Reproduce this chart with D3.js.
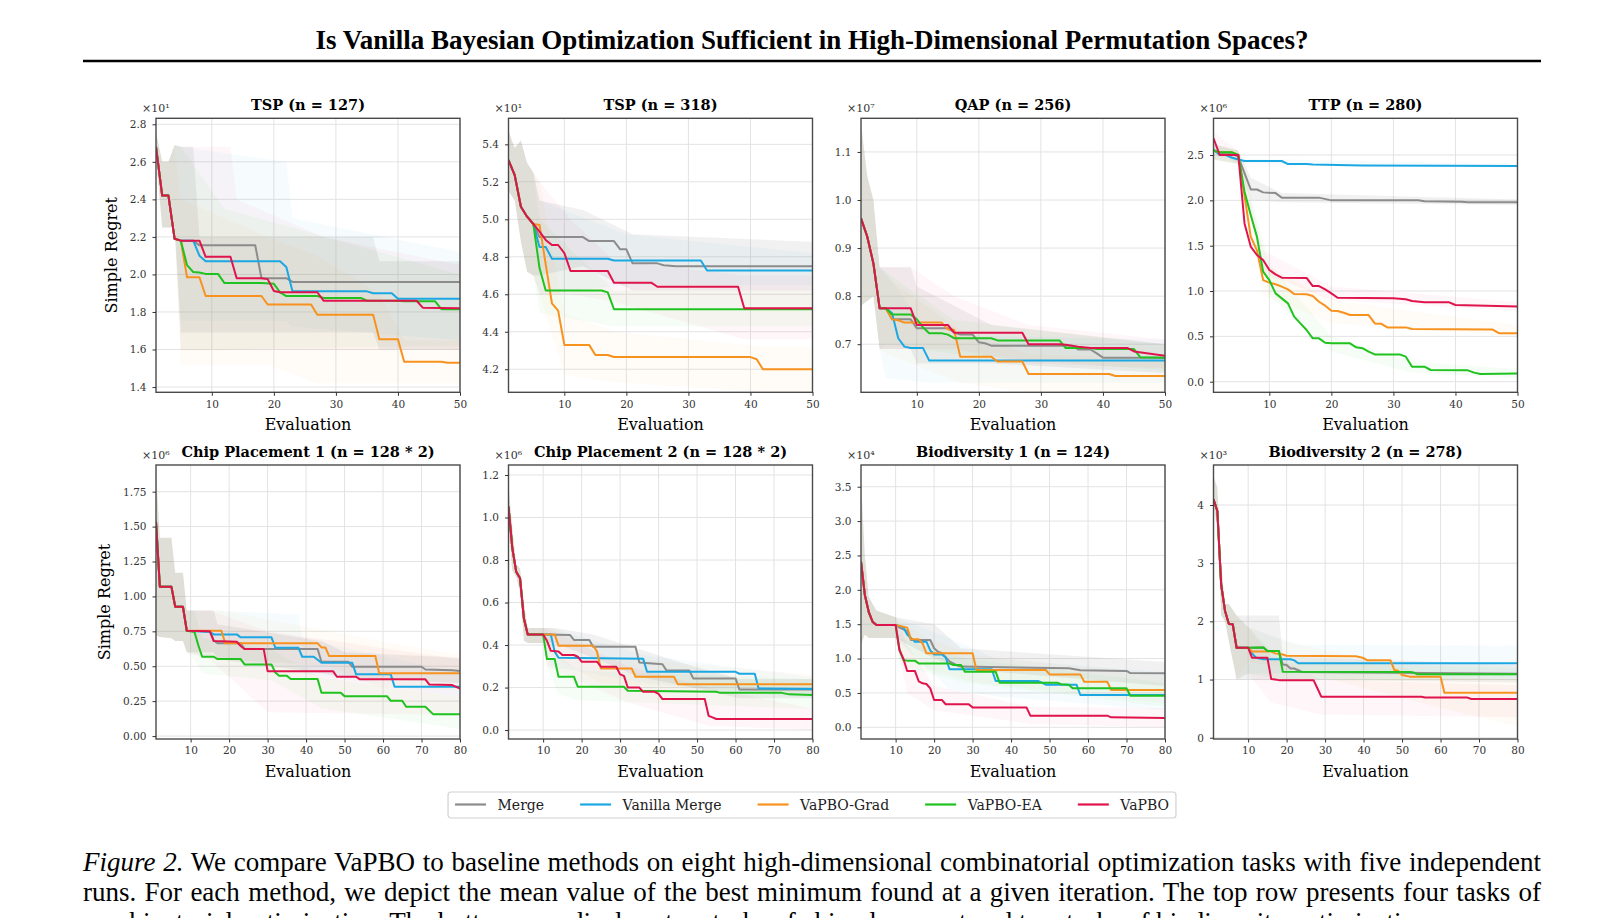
<!DOCTYPE html>
<html>
<head>
<meta charset="utf-8">
<script src="https://cdn.jsdelivr.net/npm/d3@7"></script>
<style>
  body { margin: 0; background: #fff; width: 1624px; height: 918px; overflow: hidden; position: relative; }
  .caption { position: absolute; left: 83px; width: 1458px; top: 847px;
             font-family: "Liberation Serif", serif; font-size: 27px; line-height: 30px; color: #000; }
  .caption div { text-align: justify; text-align-last: justify; white-space: nowrap; }
  .caption div.last { text-align-last: left; }
</style>
</head>
<body>
<svg id="fig" width="1624" height="918"></svg>
<div class="caption" id="caption"></div>
<script>
//legend / series info
var methods = ["Merge", "Vanilla Merge", "VaPBO-Grad", "VaPBO-EA", "VaPBO"];
var colors = ["#8c8c8c", "#1ba8e2", "#f7921e", "#1fc21f", "#e0144c"];

var panelTitles = ["TSP (n = 127)", "TSP (n = 318)", "QAP (n = 256)", "TTP (n = 280)",
    "Chip Placement 1 (n = 128 * 2)", "Chip Placement 2 (n = 128 * 2)",
    "Biodiversity 1 (n = 124)", "Biodiversity 2 (n = 278)"];
var panelExponents = ["¹", "¹", "⁷", "⁶", "⁶", "⁶", "⁴", "³"];
var xMaxes = [50, 50, 50, 50, 80, 80, 80, 80];
var xTicksTop = [10, 20, 30, 40, 50];
var xTicksBottom = [10, 20, 30, 40, 50, 60, 70, 80];
var yDomains = [[1.372, 2.832], [4.077, 5.539], [0.600, 1.170], [-0.117, 2.905],
    [-0.021, 1.941], [-0.042, 1.247], [-0.170, 3.816], [-0.022, 4.688]];
var yTicks = [[1.4, 1.6, 1.8, 2.0, 2.2, 2.4, 2.6, 2.8], [4.2, 4.4, 4.6, 4.8, 5.0, 5.2, 5.4],
    [0.7, 0.8, 0.9, 1.0, 1.1], [0, 0.5, 1, 1.5, 2, 2.5], [0, 0.25, 0.5, 0.75, 1, 1.25, 1.5, 1.75],
    [0, 0.2, 0.4, 0.6, 0.8, 1.0, 1.2], [0, 0.5, 1, 1.5, 2, 2.5, 3, 3.5], [0, 1, 2, 3, 4]];
var yFormats = [".1f", ".1f", ".1f", ".1f", ".2f", ".1f", ".1f", "d"];

var titleText = "Is Vanilla Bayesian Optimization Sufficient in High-Dimensional Permutation Spaces?";
var captionLines = [
    "<i>Figure 2.</i> We compare VaPBO to baseline methods on eight high-dimensional combinatorial optimization tasks with five independent",
    "runs. For each method, we depict the mean value of the best minimum found at a given iteration. The top row presents four tasks of",
    "combinatorial optimization. The bottom row displays two tasks of chip placement and two tasks of biodiversity optimization."];

//mean curves, [evaluation, value] vertices, order = methods
var tsp127Start = [[1, 2.68], [2, 2.42], [3, 2.42], [4, 2.19], [5, 2.18]];
var tsp127 = [
    tsp127Start.concat([[7, 2.18], [8, 2.155], [17, 2.155], [18, 1.98], [22, 1.98], [23, 1.96], [50, 1.96]]),
    tsp127Start.concat([[7, 2.18], [8, 2.10], [9, 2.07], [21, 2.07], [22, 2.04], [23, 1.91], [35, 1.91], [36, 1.90], [39, 1.90], [40, 1.87], [50, 1.87]]),
    tsp127Start.concat([[6, 1.985], [8, 1.985], [9, 1.885], [18, 1.885], [19, 1.84], [26, 1.84], [27, 1.785], [36, 1.785], [37, 1.655], [40, 1.655], [41, 1.535], [47, 1.535], [48, 1.53], [50, 1.53]]),
    tsp127Start.concat([[6, 2.05], [7, 2.013], [8, 2.01], [9, 2.003], [11, 2.003], [12, 1.955], [18, 1.955], [20, 1.95], [21, 1.905], [22, 1.885], [27, 1.885], [28, 1.875], [34, 1.875], [35, 1.86], [40, 1.86], [41, 1.857], [46, 1.857], [47, 1.815], [50, 1.815]]),
    tsp127Start.concat([[8, 2.18], [9, 2.094], [13, 2.094], [14, 1.98], [18, 1.98], [19, 1.975], [20, 1.912], [21, 1.905], [27, 1.905], [28, 1.86], [43, 1.86], [44, 1.823], [50, 1.82]])
];
var tsp318Start = [[1, 5.316], [2, 5.236], [3, 5.067], [4, 5.014], [5, 4.975]];
var tsp318 = [
    tsp318Start.concat([[6, 4.905], [13, 4.905], [14, 4.884], [18, 4.884], [19, 4.84], [20, 4.84], [21, 4.765], [25, 4.765], [26, 4.755], [28, 4.75], [50, 4.75]]),
    tsp318Start.concat([[6, 4.852], [7, 4.852], [8, 4.79], [17, 4.79], [18, 4.78], [32, 4.78], [33, 4.727], [50, 4.727]]),
    tsp318Start.concat([[6, 4.97], [7, 4.76], [8, 4.552], [9, 4.513], [10, 4.33], [14, 4.33], [15, 4.276], [17, 4.276], [18, 4.265], [40, 4.265], [41, 4.253], [42, 4.20], [50, 4.20]]),
    tsp318Start.concat([[6, 4.74], [7, 4.62], [16, 4.62], [17, 4.61], [18, 4.52], [50, 4.52]]),
    tsp318Start.concat([[6, 4.934], [7, 4.89], [8, 4.863], [9, 4.863], [10, 4.82], [11, 4.724], [17, 4.724], [18, 4.662], [24, 4.662], [25, 4.64], [38, 4.64], [39, 4.525], [50, 4.525]])
];
var qapStart = [[1, 0.962], [2, 0.924], [3, 0.868], [4, 0.775]];
var qap = [
    qapStart.concat([[5, 0.775], [6, 0.752], [9, 0.752], [10, 0.733], [15, 0.733], [16, 0.725], [17, 0.72], [19, 0.72], [20, 0.704], [21, 0.702], [22, 0.697], [35, 0.697], [36, 0.689], [38, 0.689], [39, 0.681], [40, 0.672], [50, 0.672]]),
    qapStart.concat([[5, 0.775], [6, 0.765], [7, 0.7125], [8, 0.695], [9, 0.692], [11, 0.692], [12, 0.666], [50, 0.666]]),
    qapStart.concat([[5, 0.775], [6, 0.752], [7, 0.75], [8, 0.745], [14, 0.745], [15, 0.731], [16, 0.73], [17, 0.674], [22, 0.674], [23, 0.664], [27, 0.664], [28, 0.638], [41, 0.638], [42, 0.634], [50, 0.634]]),
    qapStart.concat([[5, 0.775], [6, 0.762], [9, 0.762], [10, 0.752], [11, 0.735], [12, 0.723], [14, 0.723], [15, 0.72], [16, 0.7125], [22, 0.7125], [23, 0.708], [33, 0.708], [34, 0.692], [38, 0.692], [39, 0.69], [45, 0.69], [46, 0.673], [50, 0.672]]),
    qapStart.concat([[9, 0.775], [10, 0.74], [15, 0.74], [16, 0.724], [27, 0.724], [28, 0.70], [33, 0.70], [34, 0.699], [36, 0.695], [38, 0.692], [44, 0.692], [45, 0.685], [50, 0.676]])
];
var ttp = [
    [[1, 2.55], [2, 2.52], [4, 2.52], [5, 2.48], [6, 2.3], [7, 2.121], [8, 2.12], [9, 2.088], [11, 2.08], [12, 2.03], [18, 2.03], [20, 2.0], [34, 2.0], [35, 1.99], [41, 1.985], [42, 1.98], [50, 1.98]],
    [[1, 2.56], [2, 2.5], [3, 2.5], [4, 2.47], [5, 2.45], [6, 2.434], [12, 2.434], [13, 2.40], [16, 2.40], [17, 2.395], [25, 2.385], [50, 2.38]],
    [[1, 2.55], [2, 2.53], [4, 2.53], [5, 2.5], [6, 2.05], [7, 1.6], [8, 1.45], [9, 1.121], [10, 1.092], [11, 1.075], [12, 1.048], [13, 1.018], [14, 0.967], [16, 0.965], [17, 0.945], [18, 0.882], [19, 0.838], [20, 0.783], [21, 0.78], [22, 0.76], [23, 0.735], [26, 0.735], [27, 0.643], [28, 0.64], [29, 0.599], [32, 0.599], [33, 0.581], [46, 0.575], [47, 0.535], [50, 0.535]],
    [[1, 2.55], [2, 2.53], [4, 2.53], [5, 2.5], [6, 2.096], [7, 1.838], [8, 1.6], [9, 1.213], [10, 1.121], [11, 0.974], [12, 0.919], [13, 0.864], [14, 0.717], [15, 0.643], [16, 0.57], [17, 0.478], [18, 0.478], [19, 0.43], [20, 0.423], [23, 0.423], [24, 0.379], [25, 0.37], [26, 0.331], [27, 0.301], [31, 0.301], [32, 0.276], [33, 0.165], [35, 0.165], [36, 0.129], [42, 0.125], [43, 0.10], [44, 0.085], [50, 0.09]],
    [[1, 2.684], [2, 2.5], [5, 2.5], [6, 1.746], [7, 1.49], [8, 1.397], [9, 1.342], [10, 1.232], [11, 1.184], [12, 1.147], [16, 1.145], [17, 1.055], [18, 1.055], [19, 1.018], [20, 0.974], [21, 0.926], [30, 0.919], [32, 0.91], [33, 0.89], [35, 0.875], [39, 0.875], [40, 0.846], [50, 0.83]]
];
var chip1Start = [[1, 1.535], [2, 1.07], [5, 1.07], [6, 0.926], [8, 0.926], [9, 0.754]];
var chip1 = [
    chip1Start.concat([[15, 0.75], [16, 0.685], [17, 0.665], [23, 0.665], [24, 0.623], [43, 0.623], [44, 0.532], [51, 0.532], [52, 0.496], [70, 0.496], [71, 0.477], [78, 0.472], [80, 0.465]]),
    chip1Start.concat([[15, 0.745], [16, 0.728], [22, 0.728], [23, 0.707], [31, 0.707], [32, 0.633], [38, 0.633], [39, 0.568], [42, 0.568], [44, 0.525], [52, 0.525], [53, 0.442], [62, 0.442], [63, 0.353], [80, 0.353]]),
    chip1Start.concat([[18, 0.754], [19, 0.664], [43, 0.664], [44, 0.635], [45, 0.635], [46, 0.573], [58, 0.573], [59, 0.449], [80, 0.449]]),
    chip1Start.concat([[11, 0.745], [12, 0.65], [13, 0.568], [16, 0.568], [17, 0.551], [23, 0.551], [24, 0.513], [31, 0.513], [32, 0.455], [33, 0.432], [35, 0.432], [36, 0.408], [43, 0.408], [44, 0.31], [49, 0.31], [50, 0.286], [61, 0.286], [62, 0.253], [65, 0.253], [66, 0.21], [71, 0.21], [73, 0.157], [80, 0.157]]),
    chip1Start.concat([[15, 0.75], [16, 0.68], [22, 0.675], [23, 0.645], [24, 0.623], [29, 0.623], [30, 0.465], [47, 0.465], [48, 0.425], [53, 0.425], [54, 0.406], [71, 0.406], [72, 0.37], [78, 0.365], [80, 0.34]])
];
var chip2Start = [[1, 1.051], [2, 0.855], [3, 0.745], [4, 0.714], [5, 0.525], [6, 0.45], [10, 0.45]];
var chip2 = [
    chip2Start.concat([[17, 0.447], [18, 0.424], [22, 0.424], [23, 0.392], [34, 0.392], [35, 0.318], [41, 0.31], [42, 0.282], [48, 0.28], [49, 0.243], [60, 0.243], [61, 0.191], [80, 0.191]]),
    chip2Start.concat([[12, 0.45], [13, 0.369], [14, 0.34], [36, 0.335], [37, 0.274], [60, 0.274], [61, 0.265], [65, 0.265], [66, 0.196], [80, 0.193]]),
    chip2Start.concat([[13, 0.45], [14, 0.397], [23, 0.397], [24, 0.37], [25, 0.29], [33, 0.29], [34, 0.251], [44, 0.251], [45, 0.215], [80, 0.215]]),
    chip2Start.concat([[11, 0.334], [13, 0.334], [14, 0.251], [18, 0.251], [19, 0.204], [31, 0.204], [32, 0.185], [55, 0.18], [56, 0.175], [72, 0.175], [74, 0.168], [80, 0.165]]),
    chip2Start.concat([[11, 0.42], [12, 0.373], [14, 0.37], [15, 0.353], [18, 0.353], [19, 0.345], [20, 0.322], [24, 0.322], [25, 0.298], [29, 0.298], [30, 0.262], [31, 0.255], [32, 0.2], [35, 0.2], [36, 0.18], [39, 0.18], [40, 0.17], [41, 0.146], [52, 0.146], [53, 0.067], [54, 0.06], [55, 0.052], [80, 0.052]])
];
var bio1Start = [[1, 2.41], [2, 1.925], [3, 1.68], [4, 1.537], [5, 1.488], [10, 1.488]];
var bio1 = [
    bio1Start.concat([[11, 1.45], [13, 1.40], [14, 1.27], [19, 1.27], [20, 1.15], [21, 1.10], [22, 1.077], [23, 1.02], [24, 0.96], [26, 0.90], [27, 0.883], [55, 0.86], [58, 0.83], [70, 0.82], [71, 0.79], [80, 0.785]]),
    bio1Start.concat([[12, 1.455], [13, 1.35], [14, 1.30], [15, 1.246], [18, 1.246], [19, 1.12], [20, 1.06], [22, 1.06], [23, 1.02], [24, 0.844], [35, 0.844], [36, 0.674], [47, 0.674], [48, 0.65], [49, 0.62], [57, 0.62], [58, 0.47], [80, 0.47]]),
    bio1Start.concat([[13, 1.45], [14, 1.28], [16, 1.28], [17, 1.22], [18, 1.077], [30, 1.077], [31, 0.834], [49, 0.834], [50, 0.77], [58, 0.77], [59, 0.664], [65, 0.664], [66, 0.543], [80, 0.543]]),
    bio1Start.concat([[11, 1.125], [12, 0.98], [13, 0.97], [15, 0.97], [16, 0.93], [24, 0.93], [25, 0.907], [27, 0.907], [28, 0.81], [36, 0.81], [37, 0.65], [52, 0.65], [53, 0.626], [55, 0.62], [56, 0.567], [70, 0.567], [71, 0.46], [80, 0.46]]),
    bio1Start.concat([[11, 1.125], [12, 1.0], [13, 0.82], [15, 0.82], [16, 0.67], [17, 0.64], [18, 0.63], [19, 0.567], [20, 0.398], [22, 0.398], [23, 0.335], [29, 0.335], [30, 0.29], [44, 0.29], [45, 0.17], [65, 0.17], [66, 0.145], [80, 0.135]])
];
var bio2Start = [[1, 4.10], [2, 3.897], [3, 2.625], [4, 2.178], [5, 1.954], [6, 1.95], [7, 1.547], [10, 1.547]];
var bio2 = [
    bio2Start.concat([[14, 1.55], [15, 1.49], [18, 1.49], [19, 1.26], [20, 1.25], [21, 1.19], [22, 1.19], [23, 1.16], [24, 1.13], [80, 1.10]]),
    bio2Start.concat([[11, 1.45], [12, 1.38], [13, 1.36], [14, 1.35], [21, 1.35], [22, 1.33], [23, 1.28], [80, 1.28]]),
    bio2Start.concat([[11, 1.48], [16, 1.48], [17, 1.45], [19, 1.43], [20, 1.41], [38, 1.40], [40, 1.37], [41, 1.33], [47, 1.33], [48, 1.163], [49, 1.15], [50, 1.077], [52, 1.05], [60, 1.05], [61, 0.774], [80, 0.774]]),
    bio2Start.concat([[14, 1.55], [15, 1.49], [18, 1.49], [19, 1.135], [52, 1.13], [53, 1.12], [54, 1.09], [80, 1.09]]),
    bio2Start.concat([[11, 1.375], [15, 1.375], [16, 1.008], [17, 1.0], [18, 0.99], [27, 0.99], [28, 0.85], [29, 0.705], [55, 0.705], [56, 0.69], [67, 0.69], [68, 0.665], [80, 0.665]])
];

//shaded spread, [evaluation, low, high]
var tsp127BandStart = [[1, 2.62, 2.76], [2, 2.25, 2.6], [3, 2.25, 2.6], [4, 2.25, 2.69]];
var tsp127Bands = [
    tsp127BandStart.concat([[5, 1.69, 2.68], [7, 1.69, 2.68], [8, 1.69, 2.2], [36, 1.69, 2.2], [37, 1.6, 2.07], [50, 1.6, 2.07]]),
    tsp127BandStart.concat([[5, 1.75, 2.68], [22, 1.75, 2.6], [23, 1.72, 2.3], [50, 1.65, 2.12]]),
    tsp127BandStart.concat([[5, 1.52, 2.4], [19, 1.52, 2.2], [27, 1.42, 2.1], [37, 1.42, 1.9], [41, 1.42, 1.65], [50, 1.42, 1.65]]),
    tsp127BandStart.concat([[5, 1.6, 2.68], [12, 1.6, 2.35], [50, 1.62, 2.0]]),
    tsp127BandStart.concat([[5, 1.6, 2.68], [13, 1.6, 2.68], [14, 1.6, 2.4], [28, 1.6, 2.2], [50, 1.6, 2.05]])
];
var tsp318BandStart = [[1, 5.15, 5.47], [2, 5.1, 5.38], [3, 4.88, 5.42], [4, 4.72, 5.3], [5, 4.7, 5.25]];
var tsp318Bands = [
    tsp318BandStart.concat([[6, 4.7, 5.1], [13, 4.75, 5.05], [21, 4.62, 4.92], [50, 4.62, 4.88]]),
    tsp318BandStart.concat([[6, 4.6, 5.1], [20, 4.65, 4.92], [50, 4.65, 4.82]]),
    tsp318BandStart.concat([[6, 4.6, 5.2], [10, 4.17, 4.5], [18, 4.13, 4.4], [42, 4.08, 4.32], [50, 4.08, 4.32]]),
    tsp318BandStart.concat([[6, 4.5, 5.0], [18, 4.43, 4.62], [50, 4.43, 4.62]]),
    tsp318BandStart.concat([[6, 4.6, 5.2], [11, 4.6, 5.0], [18, 4.56, 4.78], [39, 4.36, 4.7], [50, 4.36, 4.7]])
];
var qapBandStart = [[1, 0.78, 1.16], [2, 0.79, 1.05], [3, 0.8, 1.0], [4, 0.69, 0.86]];
var qapBands = [
    qapBandStart.concat([[9, 0.69, 0.86], [10, 0.66, 0.82], [22, 0.66, 0.74], [50, 0.64, 0.7]]),
    qapBandStart.concat([[5, 0.63, 0.85], [12, 0.62, 0.72], [50, 0.62, 0.71]]),
    qapBandStart.concat([[5, 0.68, 0.84], [17, 0.62, 0.73], [28, 0.6, 0.68], [50, 0.6, 0.67]]),
    qapBandStart.concat([[5, 0.7, 0.85], [16, 0.68, 0.75], [50, 0.645, 0.7]]),
    qapBandStart.concat([[9, 0.69, 0.86], [16, 0.69, 0.8], [28, 0.66, 0.74], [50, 0.65, 0.71]])
];
var ttpBands = [
    [[1, 2.45, 2.62], [5, 2.4, 2.55], [7, 2.0, 2.25], [12, 1.98, 2.08], [50, 1.95, 2.01]],
    [[1, 2.5, 2.6], [6, 2.4, 2.46], [50, 2.36, 2.4]],
    [[1, 2.45, 2.62], [5, 2.4, 2.55], [9, 0.95, 1.3], [20, 0.65, 0.9], [50, 0.5, 0.62]],
    [[1, 2.45, 2.62], [5, 2.4, 2.55], [10, 0.95, 1.3], [20, 0.33, 0.5], [33, 0.1, 0.22], [50, 0.04, 0.14]],
    [[1, 2.6, 2.75], [5, 2.4, 2.55], [9, 1.2, 1.45], [20, 0.9, 1.05], [50, 0.78, 0.88]]
];
var chip1BandStart = [[1, 0.72, 1.9], [2, 0.71, 1.42], [5, 0.7, 1.42], [6, 0.68, 1.17], [8, 0.68, 1.17], [9, 0.6, 0.9]];
var chip1Bands = [
    chip1BandStart.concat([[16, 0.6, 0.9], [17, 0.55, 0.8], [44, 0.45, 0.68], [50, 0.42, 0.6], [80, 0.38, 0.56]]),
    chip1BandStart.concat([[16, 0.55, 0.9], [38, 0.52, 0.87], [39, 0.45, 0.7], [80, 0.28, 0.45]]),
    chip1BandStart.concat([[18, 0.55, 0.9], [46, 0.5, 0.75], [59, 0.35, 0.68], [80, 0.33, 0.58]]),
    chip1BandStart.concat([[11, 0.55, 0.9], [13, 0.45, 0.7], [31, 0.4, 0.62], [44, 0.2, 0.42], [80, 0.05, 0.28]]),
    chip1BandStart.concat([[15, 0.55, 0.9], [30, 0.17, 0.75], [80, 0.15, 0.55]])
];
var chip2BandStart = [[1, 0.95, 1.15], [2, 0.75, 0.95], [3, 0.72, 0.78], [4, 0.65, 0.76], [5, 0.42, 0.6], [6, 0.41, 0.48], [10, 0.41, 0.48]];
var chip2Bands = [
    chip2BandStart.concat([[13, 0.41, 0.48], [23, 0.34, 0.45], [35, 0.25, 0.38], [49, 0.2, 0.3], [61, 0.15, 0.24], [80, 0.15, 0.24]]),
    chip2BandStart.concat([[12, 0.3, 0.48], [37, 0.22, 0.35], [80, 0.15, 0.25]]),
    chip2BandStart.concat([[13, 0.34, 0.48], [25, 0.22, 0.35], [80, 0.17, 0.26]]),
    chip2BandStart.concat([[11, 0.3, 0.46], [14, 0.17, 0.35], [19, 0.14, 0.28], [80, 0.1, 0.24]]),
    chip2BandStart.concat([[11, 0.3, 0.48], [32, 0.13, 0.3], [53, 0.02, 0.2], [80, 0.0, 0.1]])
];
var bio1BandStart = [[1, 1.2, 3.6], [2, 1.35, 2.5], [3, 1.3, 1.9], [5, 1.3, 1.7], [10, 1.3, 1.6]];
var bio1Bands = [
    bio1BandStart.concat([[20, 1.0, 1.5], [27, 0.85, 1.15], [80, 0.6, 0.95]]),
    bio1BandStart.concat([[24, 0.55, 1.3], [36, 0.45, 1.0], [80, 0.25, 0.8]]),
    bio1BandStart.concat([[18, 0.85, 1.3], [31, 0.65, 1.05], [80, 0.35, 0.75]]),
    bio1BandStart.concat([[11, 0.9, 1.3], [28, 0.65, 1.0], [80, 0.3, 0.65]]),
    bio1BandStart.concat([[13, 0.5, 1.2], [20, 0.25, 0.6], [45, 0.05, 0.3], [80, 0.0, 0.28]])
];
var bio2BandStart = [[1, 4.0, 4.5], [2, 3.6, 4.3], [3, 2.1, 3.0], [4, 2.0, 2.3], [5, 1.65, 2.3], [7, 1.0, 2.1]];
var bio2Bands = [
    bio2BandStart.concat([[18, 1.0, 2.1], [19, 1.0, 1.4], [80, 0.95, 1.25]]),
    bio2BandStart.concat([[10, 1.1, 1.9], [23, 1.1, 1.6], [80, 1.05, 1.58]]),
    bio2BandStart.concat([[10, 1.3, 1.9], [20, 1.2, 1.65], [61, 0.5, 1.05], [80, 0.2, 1.0]]),
    bio2BandStart.concat([[10, 1.1, 1.9], [19, 1.0, 1.3], [80, 1.0, 1.2]]),
    bio2BandStart.concat([[10, 1.1, 1.9], [16, 0.6, 1.4], [29, 0.4, 1.0], [80, 0.35, 0.9]])
];

var panelLines = [tsp127, tsp318, qap, ttp, chip1, chip2, bio1, bio2];
var panelBands = [tsp127Bands, tsp318Bands, qapBands, ttpBands, chip1Bands, chip2Bands, bio1Bands, bio2Bands];

window.onload = drawFigure;

function drawFigure(){

    var svg = d3.select("#fig");
    var serif = "DejaVu Serif";

    //figure title and rule
    svg.append("text")
        .attr("x", 812)
        .attr("y", 49)
        .attr("text-anchor", "middle")
        .style("font-family", "Liberation Serif")
        .style("font-weight", "bold")
        .style("font-size", "27px")
        .text(titleText);
    svg.append("line")
        .attr("x1", 83).attr("x2", 1541)
        .attr("y1", 61).attr("y2", 61)
        .attr("stroke", "#000")
        .attr("stroke-width", 2.5);

    //panel frame sizes
    var w = 304, h = 274;
    var left0 = 156, dx = 352.5;
    var rowTops = [118.3, 465];
    var yLabelX = [117.3, 110];

    var defs = svg.append("defs");

    panelTitles.forEach(function(title, i){
        var col = i % 4, row = Math.floor(i / 4);
        var px = left0 + col * dx, py = rowTops[row];

        var x = d3.scaleLinear().domain([1, xMaxes[i]]).range([0, w]);
        var y = d3.scaleLinear().domain(yDomains[i]).range([h, 0]);
        var xTicks = row == 0 ? xTicksTop : xTicksBottom;

        var g = svg.append("g").attr("transform", "translate(" + px + "," + py + ")");

        defs.append("clipPath").attr("id", "clip" + i)
            .append("rect").attr("width", w).attr("height", h);

        //grid
        g.selectAll(".gx").data(xTicks).enter().append("line")
            .attr("x1", d => x(d)).attr("x2", d => x(d))
            .attr("y1", 0).attr("y2", h)
            .attr("stroke", "#e3e3e3").attr("stroke-width", 1);
        g.selectAll(".gy").data(yTicks[i]).enter().append("line")
            .attr("x1", 0).attr("x2", w)
            .attr("y1", d => y(d)).attr("y2", d => y(d))
            .attr("stroke", "#e3e3e3").attr("stroke-width", 1);

        var plot = g.append("g").attr("clip-path", "url(#clip" + i + ")");

        //spread bands
        var area = d3.area()
            .x(d => x(d[0]))
            .y0(d => y(d[1]))
            .y1(d => y(d[2]));
        plot.selectAll(".band").data(panelBands[i]).enter().append("path")
            .attr("d", area)
            .attr("fill", (d, k) => colors[k])
            .attr("fill-opacity", (d, k) => k == 0 ? 0.12 : 0.04);

        //mean curves
        var line = d3.line()
            .x(d => x(d[0]))
            .y(d => y(d[1]));
        plot.selectAll(".curve").data(panelLines[i]).enter().append("path")
            .attr("d", line)
            .attr("fill", "none")
            .attr("stroke", (d, k) => colors[k])
            .attr("stroke-width", 2)
            .attr("stroke-linejoin", "round");

        //frame
        g.append("rect")
            .attr("width", w).attr("height", h)
            .attr("fill", "none")
            .attr("stroke", "#4a4a4a")
            .attr("stroke-width", 1.4);

        //axes
        var xAxis = g.append("g")
            .attr("transform", "translate(0," + h + ")")
            .call(d3.axisBottom(x).tickValues(xTicks).tickSize(3.5).tickPadding(4.5));
        var yAxis = g.append("g")
            .call(d3.axisLeft(y).tickValues(yTicks[i]).tickFormat(d3.format(yFormats[i])).tickSize(3.5).tickPadding(6));
        [xAxis, yAxis].forEach(function(a){
            a.select(".domain").remove();
            a.selectAll("line").attr("stroke", "#333");
            a.selectAll("text")
                .attr("fill", "#333")
                .style("font-family", serif)
                .style("font-size", "10.5px");
        });

        //offset exponent
        g.append("text")
            .attr("x", -14)
            .attr("y", -6)
            .attr("fill", "#333")
            .style("font-family", serif)
            .style("font-size", "11px")
            .text("×10" + panelExponents[i]);

        //title
        g.append("text")
            .attr("x", w / 2)
            .attr("y", -8)
            .attr("text-anchor", "middle")
            .style("font-family", serif)
            .style("font-weight", "bold")
            .style("font-size", "14.5px")
            .text(title);

        //x label
        g.append("text")
            .attr("x", w / 2)
            .attr("y", h + 38)
            .attr("text-anchor", "middle")
            .style("font-family", serif)
            .style("font-size", "16px")
            .text("Evaluation");

        //y label, first column only
        if (col == 0) {
            svg.append("text")
                .attr("transform", "translate(" + yLabelX[row] + "," + (py + h / 2) + ") rotate(-90)")
                .attr("text-anchor", "middle")
                .style("font-family", serif)
                .style("font-size", "16px")
                .text("Simple Regret");
        }
    });

    //legend
    var legend = svg.append("g");
    var box = legend.append("rect")
        .attr("fill", "#fff")
        .attr("stroke", "#d2d2d2")
        .attr("stroke-width", 1.2)
        .attr("rx", 3);
    var cursor = 0;
    var items = legend.selectAll(".item").data(methods).enter().append("g");
    items.each(function(name, k){
        var it = d3.select(this);
        it.append("line")
            .attr("x1", 0).attr("x2", 31)
            .attr("y1", 0).attr("y2", 0)
            .attr("stroke", colors[k])
            .attr("stroke-width", 2.2);
        var t = it.append("text")
            .attr("x", 42.5)
            .attr("y", 5)
            .attr("fill", "#222")
            .style("font-family", serif)
            .style("font-size", "14px")
            .text(name);
        it.attr("transform", "translate(" + cursor + ",0)");
        cursor += 42.5 + t.node().getComputedTextLength() + 36;
    });
    var contentW = cursor - 36;
    var lx = 812 - contentW / 2;
    legend.attr("transform", "translate(" + lx + ",804.5)");
    box.attr("x", -7).attr("y", -12.5).attr("width", contentW + 14).attr("height", 26);

    //caption
    d3.select("#caption").selectAll("div").data(captionLines).enter().append("div")
        .attr("class", (d, k) => k == captionLines.length - 1 ? "last" : null)
        .html(d => d);
}
</script>
</body>
</html>
